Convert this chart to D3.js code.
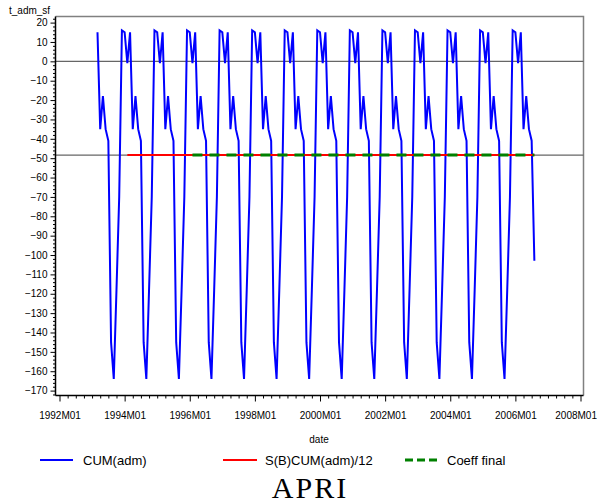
<!DOCTYPE html>
<html><head><meta charset="utf-8">
<script src="https://cdn.jsdelivr.net/npm/d3@7"></script>
<style>body{margin:0;background:#fff}svg{display:block}</style>
</head><body>
<svg id="chart" width="597" height="504"></svg>
<script>
// ---- data ----
const seriesStart = "1993M03";
const cumAdm = [
  // 1993 M03..M12
  15, -35, -18, -35, -41, -145, -164, -118, -70, 16,
  // 1994
  15, -1, 15, -35, -18, -35, -41, -145, -164, -118, -70, 16,
  // 1995
  15, -1, 15, -35, -18, -35, -41, -145, -164, -118, -70, 16,
  // 1996
  15, -1, 15, -35, -18, -35, -41, -145, -164, -118, -70, 16,
  // 1997
  15, -1, 15, -35, -18, -35, -41, -145, -164, -118, -70, 16,
  // 1998
  15, -1, 15, -35, -18, -35, -41, -145, -164, -118, -70, 16,
  // 1999
  15, -1, 15, -35, -18, -35, -41, -145, -164, -118, -70, 16,
  // 2000
  15, -1, 15, -35, -18, -35, -41, -145, -164, -118, -70, 16,
  // 2001
  15, -1, 15, -35, -18, -35, -41, -145, -164, -118, -70, 16,
  // 2002
  15, -1, 15, -35, -18, -35, -41, -145, -164, -118, -70, 16,
  // 2003
  15, -1, 15, -35, -18, -35, -41, -145, -164, -118, -70, 16,
  // 2004
  15, -1, 15, -35, -18, -35, -41, -145, -164, -118, -70, 16,
  // 2005
  15, -1, 15, -35, -18, -35, -41, -145, -164, -118, -70, 16,
  // 2006 M01..M08
  15, -1, 15, -35, -18, -35, -41, -103
];
const sbDates = ["1994M02", "2006M08"];
const sbValues = [-48.4, -48.4];
const coeffDates = ["1996M02", "2006M08"];
const coeffValues = [-48.4, -48.4];
const refValues = [0, -48.4];
const xTickLabels = ["1992M01","1994M01","1996M01","1998M01","2000M01","2002M01","2004M01","2006M01","2008M01"];
const yTicks = [-170,-160,-150,-140,-130,-120,-110,-100,-90,-80,-70,-60,-50,-40,-30,-20,-10,0,10,20];
const legendLabels = ["CUM(adm)", "S(B)CUM(adm)/12", "Coeff final"];
const yLabel = "t_adm_sf", xLabel = "date", title = "APRI";

// ---- helpers ----
const mIndex = s => (+s.slice(0,4) - 1992) * 12 + (+s.slice(5) - 1);
const svg = d3.select("#chart");
const FONT = "'Liberation Sans', Arial, sans-serif";
const frame = {l: 55.5, r: 583.5, t: 16.5, b: 395.5};

const x = d3.scaleLinear().domain([0, 192]).range([59.5, 580.5]);
const y = d3.scaleLinear().domain([-170, 20]).range([390.6, 22.6]);

svg.append("rect").attr("width", 597).attr("height", 504).attr("fill", "#fff");

// frame (top/right)
svg.append("path")
  .attr("d", `M${frame.l},${frame.t}H${frame.r}V${frame.b}`)
  .attr("fill", "none").attr("stroke", "#808080").attr("stroke-width", 1.5);

// reference lines
svg.selectAll("line.ref").data(refValues).enter().append("line")
  .attr("x1", frame.l).attr("x2", frame.r)
  .attr("y1", d => y(d)).attr("y2", d => y(d))
  .attr("stroke", "#666").attr("stroke-width", 1.3);

// y axis
const gy = svg.append("g").attr("transform", `translate(${frame.l},0)`);
const minorY = d3.range(-172, 23, 2).filter(v => v % 10 !== 0);
gy.append("g").call(d3.axisLeft(y).tickValues(minorY).tickSize(2.5).tickFormat(""))
  .call(g => g.select(".domain").remove());
gy.append("g").call(d3.axisLeft(y).tickValues(yTicks).tickSize(5).tickPadding(3)
  .tickFormat(d => d < 0 ? "\u2212" + Math.abs(d) : String(d)))
  .call(g => g.select(".domain").remove())
  .selectAll("text").attr("font-family", FONT).attr("font-size", 10).attr("fill", "#000");
gy.selectAll("line").attr("stroke", "#000").attr("stroke-width", 1);
gy.append("line").attr("y1", frame.t).attr("y2", frame.b).attr("stroke", "#000").attr("stroke-width", 1.5);

// x axis
const gx = svg.append("g").attr("transform", `translate(0,${frame.b})`);
gx.append("g").call(d3.axisBottom(x).tickValues(d3.range(0, 193, 3).filter(v => v % 24 !== 0)).tickSize(3).tickFormat(""))
  .call(g => g.select(".domain").remove());
gx.append("g").call(d3.axisBottom(x).tickValues(xTickLabels.map(mIndex)).tickSize(6).tickPadding(10)
  .tickFormat((d, i) => xTickLabels[i]))
  .call(g => g.select(".domain").remove())
  .selectAll("text").attr("font-family", FONT).attr("font-size", 10).attr("fill", "#000")
  .filter((d, i) => i === xTickLabels.length - 1)
  .attr("text-anchor", "end").attr("dx", "16");
gx.selectAll("line").attr("stroke", "#000").attr("stroke-width", 1);
gx.append("line").attr("x1", frame.l).attr("x2", frame.r).attr("stroke", "#000").attr("stroke-width", 1.5);

// axis labels
svg.append("text").attr("x", 9).attr("y", 14).text(yLabel)
  .attr("font-family", FONT).attr("font-size", 10);
svg.append("text").attr("x", 319).attr("y", 443).attr("text-anchor", "middle").text(xLabel)
  .attr("font-family", FONT).attr("font-size", 10);

// series
const s0 = mIndex(seriesStart);
svg.append("path").datum(cumAdm)
  .attr("d", d3.line().x((d, i) => x(s0 + i)).y(d => y(d)))
  .attr("fill", "none").attr("stroke", "#0000ff").attr("stroke-width", 2).attr("stroke-linejoin", "miter");

svg.append("path").datum(sbValues)
  .attr("d", d3.line().x((d, i) => x(mIndex(sbDates[i]))).y(d => y(d)))
  .attr("fill", "none").attr("stroke", "#ff0000").attr("stroke-width", 2);

svg.append("path").datum(coeffValues)
  .attr("d", d3.line().x((d, i) => x(mIndex(coeffDates[i]))).y(d => y(d)))
  .attr("fill", "none").attr("stroke", "#008000").attr("stroke-width", 3).attr("stroke-dasharray", "10,7");

// legend
const legendItems = [
  {x1: 40, x2: 73, tx: 83, color: "#0000ff", w: 2, dash: null},
  {x1: 223, x2: 257, tx: 265, color: "#ff0000", w: 2, dash: null},
  {x1: 405, x2: 437, tx: 447, color: "#008000", w: 3, dash: "8,4"}
];
legendItems.forEach((it, i) => {
  svg.append("line").attr("x1", it.x1).attr("x2", it.x2).attr("y1", 460).attr("y2", 460)
    .attr("stroke", it.color).attr("stroke-width", it.w).attr("stroke-dasharray", it.dash);
  svg.append("text").attr("x", it.tx).attr("y", 465).text(legendLabels[i])
    .attr("font-family", FONT).attr("font-size", 13);
});

// title
svg.append("text").attr("x", 310).attr("y", 498).attr("text-anchor", "middle").text(title)
  .attr("font-family", "'Liberation Serif', 'Times New Roman', serif").attr("font-size", 30)
  .attr("letter-spacing", 2);
</script>
</body></html>
